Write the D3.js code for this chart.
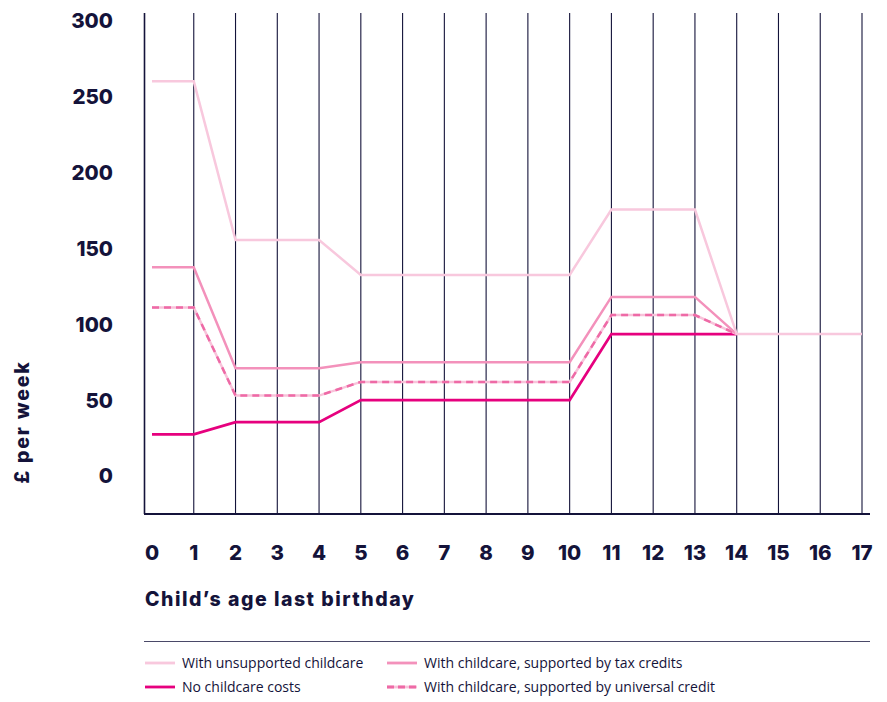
<!DOCTYPE html>
<html><head><meta charset="utf-8">
<script src="https://cdn.jsdelivr.net/npm/d3@7"></script>
<style>
html,body{margin:0;padding:0;background:#fff;}
svg{display:block;}
</style></head>
<body>
<svg id="chart" width="887" height="702"></svg>
<script>
const ages = [0,1,2,3,4,5,6,7,8,9,10,11,12,13,14,15,16,17];
const yTicks = [0,50,100,150,200,250,300];
const unsupported = [260,260,155.5,155.5,155.5,132.5,132.5,132.5,132.5,132.5,132.5,175.5,175.5,175.5,93.5,93.5,93.5,93.5];
const taxCredits = [137.5,137.5,71,71,71,75,75,75,75,75,75,118,118,118,93.5];
const universalCredit = [111,111,53,53,53,62,62,62,62,62,62,106,106,106,93.5];
const noChildcare = [27.5,27.5,35.5,35.5,35.5,50,50,50,50,50,50,93.5,93.5,93.5,93.5];
const legendLabels = ["With unsupported childcare","With childcare, supported by tax credits","No childcare costs","With childcare, supported by universal credit"];

const navy = "#14133a";
const cUns = "#f8c8dd", cTax = "#f391bb", cUCdash = "#ee6aa6", cUCbase = "#f8c3da", cNC = "#e6007e";

const svg = d3.select("#chart");
const x = d3.scaleLinear().domain([0,17]).range([152,862]);
const y = d3.scaleLinear().domain([-25,305]).range([514,13]);
const tickFont = "Inter, 'DejaVu Sans', sans-serif";

// gridlines
svg.append("g").selectAll("line").data(ages.slice(1)).join("line")
  .attr("x1", d=>x(d)).attr("x2", d=>x(d)).attr("y1", y(305)).attr("y2", y(-25))
  .attr("stroke", navy).attr("stroke-width", 1.1);
// left axis line
svg.append("line").attr("x1",144.5).attr("x2",144.5).attr("y1",y(305)).attr("y2",y(-25))
  .attr("stroke", navy).attr("stroke-width", 1.6);
// bottom axis line
svg.append("line").attr("x1",144).attr("x2",870).attr("y1",y(-25)).attr("y2",y(-25))
  .attr("stroke", navy).attr("stroke-width", 1.8);

// y tick labels
svg.append("g").selectAll("text").data(yTicks).join("text")
  .attr("x",113).attr("y",d=>y(d)).attr("dy","0.36em").attr("text-anchor","end")
  .attr("font-family",tickFont).attr("font-weight",800).attr("font-size",20.5)
  .attr("fill",navy).text(d=>d);
// x tick labels
svg.append("g").selectAll("text").data(ages).join("text")
  .attr("x",d=>x(d)).attr("y",560).attr("text-anchor","middle")
  .attr("font-family",tickFont).attr("font-weight",800).attr("font-size",20.5)
  .attr("fill",navy).text(d=>d);

// axis titles
svg.append("text").attr("x",145).attr("y",606)
  .attr("font-family",tickFont).attr("font-weight",800).attr("font-size",19.5)
  .attr("letter-spacing","1.5px")
  .attr("fill",navy).text("Child\u2019s age last birthday");
svg.append("text").attr("transform","translate(29,422) rotate(-90)").attr("text-anchor","middle")
  .attr("font-family",tickFont).attr("font-weight",800).attr("font-size",19.5)
  .attr("letter-spacing","1.8px")
  .attr("fill",navy).text("\u00a3 per week");

// lines
const line = d3.line().x((d,i)=>x(ages[i])).y(d=>y(d));
const g = svg.append("g").attr("fill","none").attr("stroke-linejoin","miter");
g.append("path").attr("d",line(noChildcare)).attr("stroke",cNC).attr("stroke-width",2.8);
g.append("path").attr("d",line(universalCredit)).attr("stroke",cUCbase).attr("stroke-width",2.5);
g.append("path").attr("d",line(universalCredit)).attr("stroke",cUCdash).attr("stroke-width",2.5).attr("stroke-dasharray","7,5");
g.append("path").attr("d",line(taxCredits)).attr("stroke",cTax).attr("stroke-width",2.5);
g.append("path").attr("d",line(unsupported)).attr("stroke",cUns).attr("stroke-width",2.5);

// legend
svg.append("line").attr("x1",144).attr("x2",870).attr("y1",641.5).attr("y2",641.5)
  .attr("stroke","#4a4968").attr("stroke-width",1.2);
const legendItems = [
  {label:legendLabels[0], x:145, y:663, color:cUns, dash:false},
  {label:legendLabels[1], x:387, y:663, color:cTax, dash:false},
  {label:legendLabels[2], x:145, y:687, color:cNC, dash:false},
  {label:legendLabels[3], x:387, y:687, color:cUCdash, dash:true}
];
const lg = svg.append("g");
legendItems.forEach(it=>{
  if(it.dash){
    lg.append("line").attr("x1",it.x).attr("x2",it.x+30).attr("y1",it.y).attr("y2",it.y)
      .attr("stroke",cUCbase).attr("stroke-width",2.8);
    lg.append("line").attr("x1",it.x).attr("x2",it.x+30).attr("y1",it.y).attr("y2",it.y)
      .attr("stroke",it.color).attr("stroke-width",2.8).attr("stroke-dasharray","7,4");
  } else {
    lg.append("line").attr("x1",it.x).attr("x2",it.x+30).attr("y1",it.y).attr("y2",it.y)
      .attr("stroke",it.color).attr("stroke-width",2.8);
  }
  lg.append("text").attr("x",it.x+37).attr("y",it.y).attr("dy","0.35em")
    .attr("font-family","'Open Sans', 'Noto Sans', sans-serif").attr("font-size",14)
    .attr("fill",navy).text(it.label);
});
</script>
</body></html>
